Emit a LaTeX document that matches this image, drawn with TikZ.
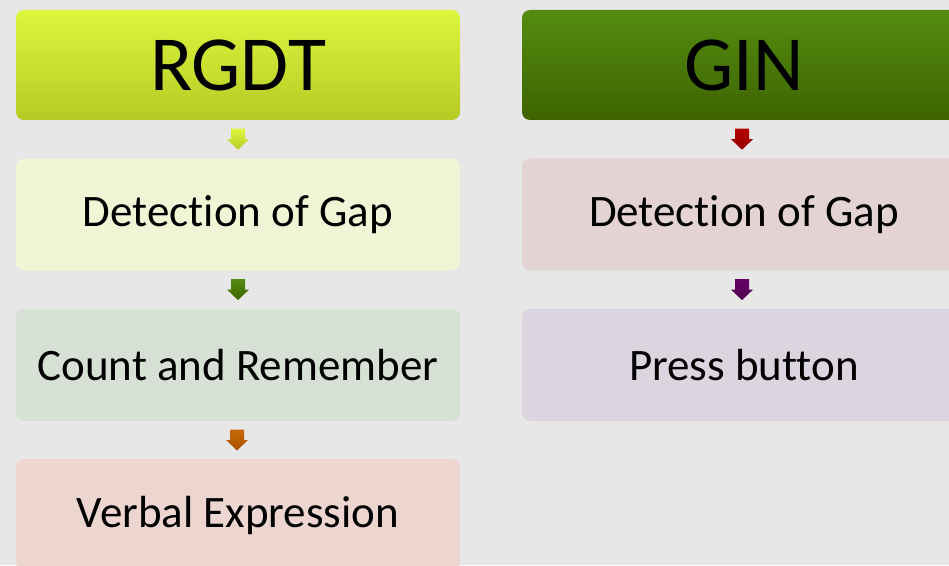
\documentclass[tikz,border=0pt]{standalone}
\usepackage{fontspec}
\setmainfont[Ligatures=NoCommon]{Carlito}
\usetikzlibrary{positioning}

\definecolor{bgGrey}{HTML}{E7E7E7}
\definecolor{limeTop}{HTML}{DDF63E}
\definecolor{limeBot}{HTML}{B6CA24}
\definecolor{grnTop}{HTML}{548C10}
\definecolor{grnBot}{HTML}{3E6400}
\definecolor{ochreTop}{HTML}{C86A08}
\definecolor{ochreBot}{HTML}{A85200}
\definecolor{paleLime}{HTML}{EFF6D6}
\definecolor{paleSage}{HTML}{D6E0D4}
\definecolor{palePeach}{HTML}{EDD6D0}
\definecolor{paleRose}{HTML}{E3D3D3}
\definecolor{paleLilac}{HTML}{DCD4DE}

\tikzset{
  hdr/.style={minimum width=444pt, minimum height=110pt, rounded corners=8pt,
    inner sep=0pt, font=\fontsize{78}{80}\selectfont},
  stepbox/.style={minimum width=444pt, minimum height=112pt, rounded corners=8pt,
    inner sep=0pt, font=\fontsize{45}{48}\selectfont},
  downarrow/.pic={
    \path[pic actions] (-7,10.5) -- (7,10.5) -- (7,0) -- (11,0) -- (0,-10.5)
      -- (-11,0) -- (-7,0) -- cycle;
  }
}

\begin{document}
\begin{tikzpicture}[x=1pt, y=1pt]
\useasboundingbox (0,0) rectangle (949,565);
\fill[bgGrey] (0,0) rectangle (949,565);
\clip (0,0) rectangle (949,565);

% left column
\node[hdr, top color=limeTop, bottom color=limeBot] (rgdt) at (238,500) {RGDT};
\node[stepbox, fill=paleLime, below=38pt of rgdt] (gapL) {Detection of Gap};
\node[stepbox, fill=paleSage, below=38pt of gapL] (count) {Count and Remember};
\node[stepbox, fill=palePeach, below=38pt of count] (verbal) {Verbal Expression};

% right column
\node[hdr, top color=grnTop, bottom color=grnBot] (gin) at (744,500) {GIN};
\node[stepbox, fill=paleRose, below=38pt of gin] (gapR) {Detection of Gap};
\node[stepbox, fill=paleLilac, below=38pt of gapR] (press) {Press button};

% block arrows
\path (rgdt.south) -- (gapL.north) coordinate[midway] (a1);
\path (gapL.south) -- (count.north) coordinate[midway] (a2);
\path (count.south) -- (verbal.north) coordinate[midway] (a3);
\path (gin.south) -- (gapR.north) coordinate[midway] (a4);
\path (gapR.south) -- (press.north) coordinate[midway] (a5);
\pic[top color=limeTop, bottom color=limeBot] at (a1) {downarrow};
\pic[top color=grnTop, bottom color=grnBot] at (a2) {downarrow};
\pic[top color=ochreTop, bottom color=ochreBot] at ([xshift=-1pt]a3) {downarrow};
\pic[top color=red!70!black, bottom color=red!60!black] at ([xshift=-2pt]a4) {downarrow};
\pic[top color=violet!80!black, bottom color=violet!60!black] at ([xshift=-2pt]a5) {downarrow};
\end{tikzpicture}
\end{document}
